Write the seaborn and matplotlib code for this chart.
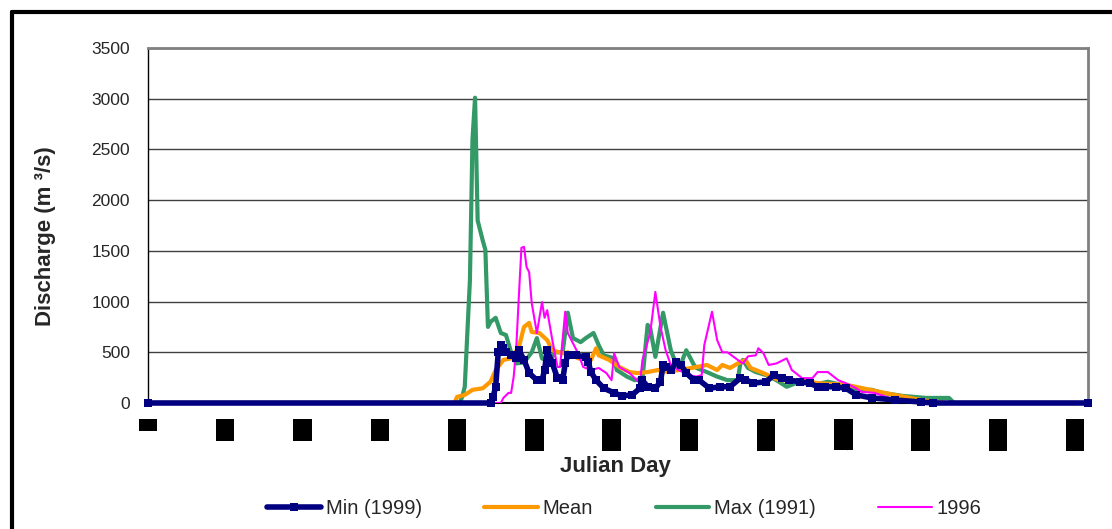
import matplotlib
matplotlib.use('Agg')
from matplotlib import pyplot as plt
from matplotlib.lines import Line2D
import seaborn as sns

## daily discharge (Julian day, m3/s)
minDays = [0, 133, 134, 135, 136, 137, 138, 139, 141, 143, 144, 146, 148, 151, 153, 154, 155, 157, 159, 161,
           162, 163, 166, 170, 171, 172, 174, 177, 181, 184, 188, 191, 192, 194, 197, 199, 200, 201, 203, 205,
           207, 209, 212, 214, 218, 222, 226, 230, 232, 235, 240, 243, 246, 249, 253, 257, 260, 263, 267, 271,
           275, 281, 290, 300, 305, 365]
minVals = [0, 0, 60, 160, 500, 570, 540, 500, 470, 440, 520, 425, 295, 225, 225, 325, 520, 390, 245, 225,
           390, 470, 470, 455, 400, 305, 225, 145, 100, 70, 80, 145, 225, 160, 145, 210, 375, 355, 325, 400,
           375, 295, 225, 225, 145, 160, 160, 245, 230, 195, 210, 275, 245, 225, 210, 195, 160, 160, 160, 145,
           80, 50, 30, 10, 0, 0]

meanDays = [0, 119, 120, 123, 126, 130, 133, 135, 138, 141, 144, 146, 148, 149, 152, 155, 157, 161, 163, 167,
            172, 174, 175, 179, 183, 187, 190, 194, 198, 202, 206, 211, 213, 217, 221, 223, 226, 229, 232, 234,
            238, 242, 245, 252, 257, 260, 271, 286, 300, 310, 365]
meanVals = [0, 0, 60, 80, 130, 145, 210, 325, 425, 440, 550, 750, 790, 700, 690, 620, 520, 490, 500, 440,
            425, 540, 470, 425, 355, 305, 295, 305, 325, 305, 325, 345, 355, 375, 325, 375, 345, 390, 425, 345,
            305, 260, 225, 225, 210, 195, 180, 100, 30, 0, 0]

maxDays = [0, 121, 122, 123, 124, 125, 126, 127, 128, 130, 131, 132, 133, 135, 137, 139, 141, 143, 146, 149,
           151, 153, 156, 158, 161, 163, 165, 168, 170, 173, 175, 177, 181, 182, 186, 189, 192, 194, 195, 197,
           200, 203, 206, 209, 212, 213, 217, 221, 225, 229, 230, 231, 233, 236, 240, 244, 248, 253, 257, 259,
           264, 269, 274, 281, 285, 293, 302, 311, 313, 365]
maxVals = [0, 0, 60, 160, 690, 1210, 2600, 3010, 1800, 1600, 1510, 750, 800, 840, 690, 670, 500, 390, 400, 500,
           640, 440, 400, 500, 500, 890, 640, 600, 640, 690, 570, 470, 440, 325, 260, 225, 240, 770, 740, 455,
           890, 520, 325, 520, 375, 345, 305, 260, 225, 225, 390, 425, 345, 305, 275, 225, 160, 210, 195, 180,
           210, 180, 130, 130, 100, 70, 50, 50, 0, 0]

y96Days = [0, 137, 138, 140, 141, 142, 143, 144, 145, 146, 147, 148, 149, 151, 153, 154, 155, 157, 159, 160,
           162, 163, 165, 167, 169, 172, 175, 178, 180, 181, 183, 187, 191, 192, 195, 197, 199, 201, 203, 206,
           210, 213, 215, 216, 218, 219, 221, 223, 225, 229, 231, 233, 236, 237, 239, 241, 244, 248, 250, 254,
           258, 260, 264, 268, 271, 275, 277, 282, 288, 295, 365]
y96Vals = [0, 0, 50, 100, 100, 260, 550, 1050, 1530, 1540, 1340, 1290, 985, 690, 995, 840, 915, 620, 355, 355,
           900, 690, 590, 490, 355, 325, 345, 295, 225, 490, 355, 295, 195, 425, 690, 1095, 750, 520, 375, 325,
           275, 260, 275, 570, 790, 900, 620, 500, 500, 425, 390, 460, 470, 540, 490, 375, 390, 440, 325, 245,
           245, 305, 305, 225, 195, 145, 110, 100, 50, 0, 0]

xTicks = list(range(0, 361, 30))
yTicks = list(range(0, 3501, 500))

sns.set_style('white')
plt.rcParams['font.family'] = ['Liberation Sans', 'DejaVu Sans']

fig = plt.figure(figsize=(11.12, 5.29), dpi=100)
ax = fig.add_axes([148 / 1112, 126 / 529, 940 / 1112, 355 / 529])

sns.lineplot(x=maxDays, y=maxVals, color='#339966', lw=3, label='Max (1991)', ax=ax, zorder=2)
sns.lineplot(x=meanDays, y=meanVals, color='#FF9900', lw=3, label='Mean', ax=ax, zorder=3)
sns.lineplot(x=y96Days, y=y96Vals, color='#FF00FF', lw=1.5, label='1996', ax=ax, zorder=4)
sns.lineplot(x=minDays, y=minVals, color='#000080', lw=4, marker='s', markersize=6,
             markeredgewidth=0, label='Min (1999)', ax=ax, zorder=5, clip_on=False)

ax.set_xlim(0, 365)
ax.set_ylim(0, 3500)
ax.set_xticks(xTicks)
ax.set_xticklabels([str(t) for t in xTicks])
ax.set_yticks(yTicks)
ax.tick_params(axis='x', direction='in', length=5, width=1, pad=12, labelsize=13, labelrotation=90)
ax.tick_params(axis='y', length=0, pad=13, labelsize=12.5)
for lab in ax.get_xticklabels():
    lab.set_bbox(dict(facecolor='black', edgecolor='none', pad=0.5))
    lab.set_color('black')

ax.yaxis.grid(True, color='#404040', lw=1)
ax.set_axisbelow(True)
ax.spines['left'].set_color('black')
ax.spines['bottom'].set_color('black')
ax.spines['left'].set_linewidth(1)
ax.spines['bottom'].set_linewidth(1.5)
ax.spines['top'].set_color('#808080')
ax.spines['right'].set_color('#808080')
ax.spines['top'].set_linewidth(2)
ax.spines['right'].set_linewidth(2)

ax.set_ylabel('Discharge (m \u00b3/s)', fontsize=16, fontweight='bold')
ax.yaxis.set_label_coords(-0.098, 0.47)
ax.set_xlabel('Julian Day', fontsize=16, fontweight='bold')
ax.xaxis.set_label_coords(0.497, -0.15)

## legend in Min, Mean, Max, 1996 order
handles, labels = ax.get_legend_handles_labels()
ax.get_legend().remove()
order = [labels.index(n) for n in ['Min (1999)', 'Mean', 'Max (1991)', '1996']]
fig.legend([handles[i] for i in order], [labels[i] for i in order], loc='center',
           bbox_to_anchor=(0.5616, 1 - 509 / 529), ncol=4, frameon=False, fontsize=14.5,
           handlelength=2.65, handletextpad=0.25, columnspacing=3.1, numpoints=1)

## black frame on the left and top of the figure
fig.add_artist(Line2D([11.5 / 1112, 11.5 / 1112], [-0.1, 1 - 11.5 / 529], color='black', lw=3,
                      transform=fig.transFigure))
fig.add_artist(Line2D([11.5 / 1112, 1.1], [1 - 11.5 / 529, 1 - 11.5 / 529], color='black', lw=3,
                      transform=fig.transFigure))

fig.savefig('out.png', dpi=100)
